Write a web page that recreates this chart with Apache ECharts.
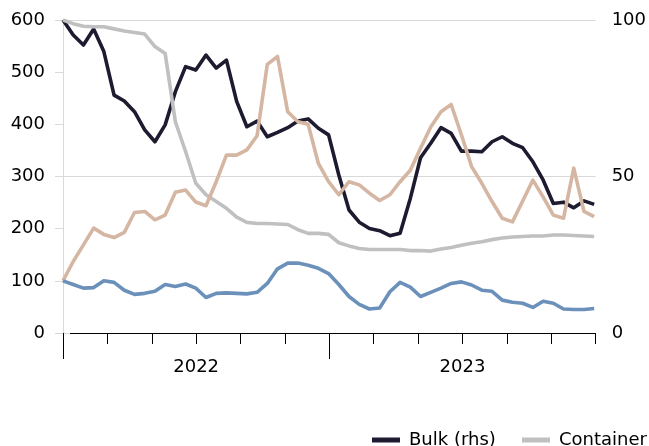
<!DOCTYPE html>
<html>
<head>
<meta charset="utf-8">
<script src="https://cdn.jsdelivr.net/npm/echarts@6/dist/echarts.min.js"></script>
<style>
  html, body { margin: 0; padding: 0; background: #fff; }
  #chart { width: 649px; height: 446px; }
</style>
</head>
<body>
<div id="chart"></div>
<script>
// Fortnightly index readings, first observation 1 Jan 2022
const startDate = '2022-01-01';
const stepDays = 14;

// Bulk freight index (right-hand scale)
const bulk = [100, 95.2, 92, 97.1, 89.9, 76, 74.1, 70.7, 64.9, 61.1, 66.5, 77.1, 85.1, 84, 88.8, 84.6, 87.2,
  74, 65.9, 67.7, 62.7, 64.1, 65.6, 67.7, 68.4, 65.4, 63.3, 50.5, 39.3, 35.4, 33.4, 32.7, 31.1, 31.9,
  43, 56, 60.6, 65.6, 63.8, 58.1, 58.1, 57.9, 61.1, 62.7, 60.6, 59.2, 54.7, 48.9, 41.4, 41.8, 40, 42.2, 41.1];

// Container freight index
const container = [600, 593, 588, 587, 587, 583, 579, 576, 573, 549, 536, 405, 348, 287, 265, 252, 239,
  222, 212, 210, 210, 209, 208, 198, 191, 191, 189, 173, 167, 162, 160, 160, 160, 160,
  158, 158, 157, 161, 164, 168, 172, 175, 179, 182, 184, 185, 186, 186, 188, 188, 187, 186, 185];

// Third index (tan)
const seriesC = [100, 137, 169, 201, 189, 183, 193, 231, 233, 217, 226, 270, 274, 251, 244, 290, 341,
  341, 351, 378, 515, 530, 424, 405, 400, 325, 290, 265, 290, 284, 268, 254, 265, 290,
  312, 354, 395, 424, 438, 380, 319, 287, 252, 220, 213, 253, 293, 261, 226, 220, 316, 233, 223];

// Fourth index (blue)
const seriesD = [100, 93, 86, 87, 100, 97, 82, 74, 76, 80, 93, 89, 94, 86, 68, 76, 77,
  76, 75, 78, 95, 123, 134, 134, 130, 124, 114, 93, 70, 55, 46, 48, 79, 97,
  88, 70, 78, 86, 95, 98, 92, 82, 80, 63, 59, 57, 49, 61, 57, 46, 45, 45, 47];

const yearLabels = { 6: '2022', 18: '2023' };
const yearStarts = [0, 12];
const leftTicks = { min: 0, max: 600, interval: 100 };
const rightTicks = { min: 0, max: 100, interval: 50 };

// Position of each reading on a month scale running Jan 2022 .. Jan 2024
const t0 = Date.parse(startDate);
const span = Date.UTC(2024, 0, 1) - t0;
function monthPos(i) {
  const t = t0 + i * stepDays * 86400000;
  return (t - t0) / span * 24;
}
const pairs = arr => arr.map((v, i) => [monthPos(i), v]);

const FONT = 'DejaVu Sans';
const chart = echarts.init(document.getElementById('chart'), null, { renderer: 'canvas' });

const lineSeries = (name, data, color, yIdx) => ({
  name, type: 'line', data: pairs(data), yAxisIndex: yIdx, xAxisIndex: 0,
  showSymbol: false, symbol: 'none', animation: false,
  lineStyle: { color, width: 3.6, join: 'round' }, itemStyle: { color }
});

// One legend block per entry so the row runs off the right edge instead of wrapping
const legendItem = (name, left) => ({
  data: [name], left, top: 426,
  icon: 'rect', itemWidth: 28, itemHeight: 5,
  textStyle: { fontFamily: FONT, fontSize: 18, color: '#000', padding: [0, 0, 0, 4] }
});

chart.setOption({
  animation: false,
  textStyle: { fontFamily: FONT },
  grid: { left: 63, right: 53, top: 20, bottom: 113, containLabel: false },
  legend: [legendItem('Bulk (rhs)', 367), legendItem('Container', 517)],
  xAxis: [
    {
      type: 'value', min: 0, max: 24, interval: 2, position: 'bottom',
      axisLine: { show: true, onZero: false, lineStyle: { color: '#000', width: 1 } },
      axisTick: { show: true, length: 11, lineStyle: { color: '#000' } },
      axisLabel: { show: false }, splitLine: { show: false }
    },
    {
      type: 'value', min: 0, max: 24, interval: 12, position: 'bottom',
      axisLine: { show: false, onZero: false },
      axisTick: { show: true, length: 26, customValues: yearStarts, lineStyle: { color: '#000' } },
      axisLabel: { show: false }, splitLine: { show: false }
    },
    {
      type: 'value', min: 0, max: 24, interval: 6, position: 'bottom',
      axisLine: { show: false, onZero: false },
      axisTick: { show: false },
      axisLabel: {
        show: true, margin: 25, fontFamily: FONT, fontSize: 18, color: '#000',
        formatter: v => yearLabels[Math.round(v)] || ''
      },
      splitLine: { show: false }
    }
  ],
  yAxis: [
    {
      type: 'value', position: 'left', ...leftTicks,
      axisLine: { show: true, lineStyle: { color: '#d9d9d9' } },
      axisTick: { show: true, length: 8, lineStyle: { color: '#d9d9d9' } },
      axisLabel: { margin: 18, fontFamily: FONT, fontSize: 18, color: '#000' },
      splitLine: { show: false }
    },
    {
      type: 'value', position: 'right', ...rightTicks,
      axisLine: { show: true, lineStyle: { color: '#d9d9d9' } },
      axisTick: { show: true, length: 7, lineStyle: { color: '#d9d9d9' } },
      axisLabel: { margin: 16, fontFamily: FONT, fontSize: 18, color: '#000' },
      splitLine: { show: true, lineStyle: { color: '#d9d9d9', width: 1 } }
    }
  ],
  series: [
    lineSeries('Bulk (rhs)', bulk, '#1e1a2f', 1),
    lineSeries('Container', container, '#c0c0c0', 0),
    lineSeries('Series C', seriesC, '#d5b6a2', 0),
    lineSeries('Series D', seriesD, '#6b91bb', 0)
  ]
});
</script>
</body>
</html>
